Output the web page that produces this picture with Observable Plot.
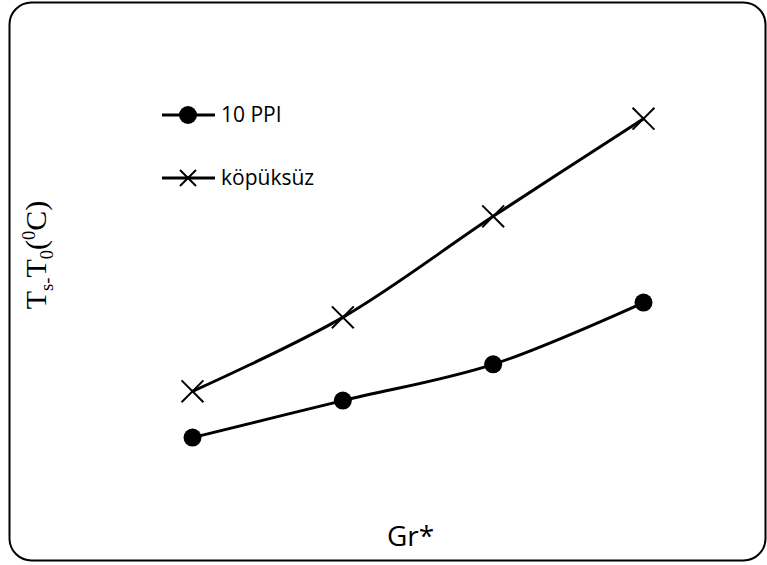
<!DOCTYPE html>
<html><head><meta charset="utf-8">
<script src="https://cdn.jsdelivr.net/npm/d3@7"></script>
<script src="https://cdn.jsdelivr.net/npm/@observablehq/plot@0.6"></script>
<style>
body{margin:0;background:#fff}
#wrap{position:relative;width:767px;height:565px;overflow:hidden}
#ylab{position:absolute;left:38px;top:255px;transform:translate(-50%,-50%) rotate(-90deg);white-space:nowrap;font-family:"Liberation Serif","Times New Roman",serif;font-size:30px;color:#000;line-height:1}
#ylab sub,#ylab sup{font-size:0.62em}
#legend{position:absolute;left:0;top:0}
</style></head><body><div id="wrap"></div>
<script>
const grStar = [1, 2, 3, 4];
const ppi10 = [1.70, 2.70, 3.68, 5.35];
const kopuksuz = [2.95, 4.95, 7.68, 10.32];
const seriesNames = ["10 PPI", "köpüksüz"];
const xLabel = ["Gr*"];

const rowsPPI = grStar.map((g, i) => ({x: g, y: ppi10[i]}));
const rowsK = grStar.map((g, i) => ({x: g, y: kopuksuz[i]}));
const sansFont = '"Open Sans", Lato, sans-serif';

const chart = Plot.plot({
  width: 767, height: 565,
  marginLeft: 9, marginRight: 2, marginTop: 2, marginBottom: 5,
  x: {domain: [1, 4], range: [192, 643], axis: null},
  y: {domain: [0, 10], range: [500, 130], axis: null},
  marks: [
    Plot.frame({rx: 22, ry: 22, strokeWidth: 2}),
    Plot.line(rowsK, {x: "x", y: "y", curve: "catmull-rom", stroke: "black", strokeWidth: 3}),
    Plot.line(rowsPPI, {x: "x", y: "y", curve: "catmull-rom", stroke: "black", strokeWidth: 3}),
    Plot.dot(rowsK, {x: "x", y: "y", symbol: "times", r: 10, stroke: "black", strokeWidth: 2}),
    Plot.dot(rowsPPI, {x: "x", y: "y", r: 9, fill: "black", stroke: "none"}),
    Plot.text(xLabel, {text: d => d, frameAnchor: "bottom", dx: 23, dy: -15, lineAnchor: "bottom", fontSize: 28, fontFamily: sansFont, fill: "black"})
  ]
});

const wrap = document.getElementById("wrap");
wrap.appendChild(chart);

const ylab = document.createElement("div");
ylab.id = "ylab";
ylab.innerHTML = "T<sub>s-</sub>T<sub>0</sub>(<sup>0</sup>C)";
wrap.appendChild(ylab);

// Legend
const ns = "http://www.w3.org/2000/svg";
const lg = document.createElementNS(ns, "svg");
lg.setAttribute("id", "legend");
lg.setAttribute("width", 767); lg.setAttribute("height", 565);
function el(tag, attrs, parent) {
  const e = document.createElementNS(ns, tag);
  for (const k in attrs) e.setAttribute(k, attrs[k]);
  parent.appendChild(e); return e;
}
const rowsY = [115, 178];
seriesNames.forEach((name, i) => {
  const y = rowsY[i];
  el("line", {x1: 162, x2: 215, y1: y, y2: y, stroke: "black", "stroke-width": 3}, lg);
  if (i === 0) el("circle", {cx: 188, cy: y, r: 9, fill: "black"}, lg);
  else {
    const s = 8;
    el("path", {d: `M${188 - s},${y - s}L${188 + s},${y + s}M${188 - s},${y + s}L${188 + s},${y - s}`, stroke: "black", "stroke-width": 2, fill: "none"}, lg);
  }
  const t = el("text", {x: 221, y: y + 7, "font-family": sansFont, "font-size": 21, fill: "black"}, lg);
  t.textContent = name;
});
wrap.appendChild(lg);
</script></body></html>
